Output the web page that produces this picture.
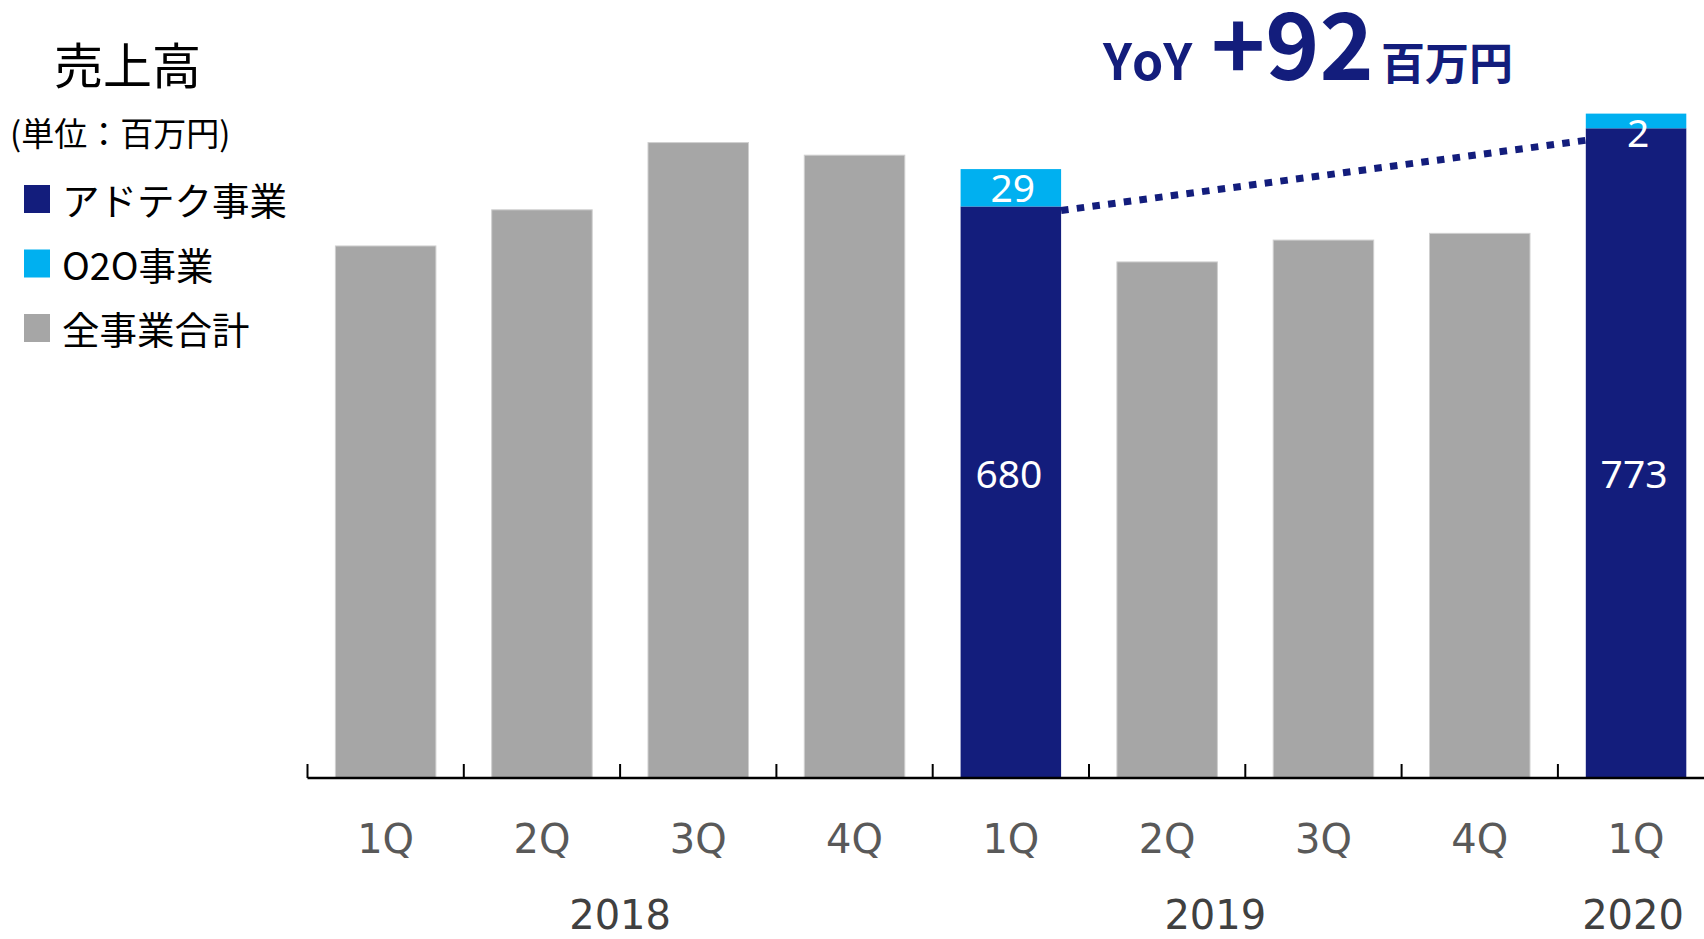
<!DOCTYPE html>
<html>
<head>
<meta charset="utf-8">
<script src="https://cdn.jsdelivr.net/npm/d3@7"></script>
<style>
  html, body { margin: 0; padding: 0; background: #ffffff; }
  svg { display: block; }
</style>
</head>
<body>
<div id="chart-container"></div>
<script>
// données
const periods = ["2018-1Q", "2018-2Q", "2018-3Q", "2018-4Q", "2019-1Q", "2019-2Q", "2019-3Q", "2019-4Q", "2020-1Q"];
const quarterLabels = ["1Q", "2Q", "3Q", "4Q", "1Q", "2Q", "3Q", "4Q", "1Q"];
const totals = [633, 676, 756, 741, 709, 614, 640, 648, 775];
const adtech = [null, null, null, null, 680, null, null, null, 773];
const o2o = [null, null, null, null, 29, null, null, null, 2];
const years = ["2018", "2019", "2020"];
const yearFirst = [0, 4, 8];
const yearLast = [3, 7, 8];
const legendLabels = ["アドテク事業", "O2O事業", "全事業合計"];

const width = 1704;
const height = 939;
const margin = { top: 106, right: -10, bottom: 161, left: 307.5 };

const colors = { adtech: "#131d7c", o2o: "#00b0f0", total: "#a6a6a6" };
const jpFont = "'Noto Sans CJK JP', 'Noto Sans', sans-serif";

const svg = d3
  .select("#chart-container")
  .append("svg")
  .attr("width", width)
  .attr("height", height);

// échelles
const x = d3
  .scaleBand()
  .domain(periods)
  .range([margin.left, margin.left + 9 * 156.3])
  .paddingInner(0.357)
  .paddingOuter(0.1785);

const y = d3
  .scaleLinear()
  .domain([0, 800])
  .range([height - margin.bottom, height - margin.bottom - 800 * 0.8405]);

const rows = periods.map((p, i) => ({
  key: p,
  q: quarterLabels[i],
  total: totals[i],
  adtech: adtech[i],
  o2o: o2o[i],
}));

const step = x.step();
const gap = (step - x.bandwidth()) / 2;

// barres grises (total)
svg
  .selectAll("rect.total")
  .data(rows.filter((d) => d.adtech === null))
  .enter()
  .append("rect")
  .attr("class", "total")
  .attr("x", (d) => x(d.key))
  .attr("y", (d) => y(d.total))
  .attr("width", x.bandwidth())
  .attr("height", (d) => y(0) - y(d.total))
  .attr("fill", colors.total)
  .attr("stroke", "#cfcfcf")
  .attr("stroke-width", 1);

const split = rows.filter((d) => d.adtech !== null);

// segment アドテク
svg
  .selectAll("rect.adtech")
  .data(split)
  .enter()
  .append("rect")
  .attr("x", (d) => x(d.key))
  .attr("y", (d) => y(d.adtech))
  .attr("width", x.bandwidth())
  .attr("height", (d) => y(0) - y(d.adtech))
  .attr("fill", colors.adtech);

// segment O2O (un peu agrandi pour loger l'étiquette, comme sur la slide)
const labelPad = 13;
svg
  .selectAll("rect.o2o")
  .data(split)
  .enter()
  .append("rect")
  .attr("x", (d) => x(d.key))
  .attr("y", (d) => y(d.adtech + d.o2o) - labelPad)
  .attr("width", x.bandwidth())
  .attr("height", (d) => y(d.adtech) - y(d.adtech + d.o2o) + labelPad)
  .attr("fill", colors.o2o);

// étiquettes
svg
  .selectAll("text.o2o")
  .data(split)
  .enter()
  .append("text")
  .attr("x", (d) => x(d.key) + x.bandwidth() / 2 + 2)
  .attr("y", (d) => y(d.adtech + d.o2o) - labelPad + 33)
  .attr("text-anchor", "middle")
  .style("font-family", "'Noto Sans', sans-serif")
  .style("font-size", "39px")
  .style("fill", "#ffffff")
  .text((d) => d.o2o);

svg
  .selectAll("text.adtech")
  .data(split)
  .enter()
  .append("text")
  .attr("x", (d) => x(d.key) + x.bandwidth() / 2 - 2)
  .attr("y", y(0) - 290)
  .attr("text-anchor", "middle")
  .style("font-family", "'Noto Sans', sans-serif")
  .style("font-size", "39px")
  .style("fill", "#ffffff")
  .text((d) => d.adtech);

// ligne pointillée YoY
const a = split[0];
const b = split[1];
svg
  .append("line")
  .attr("x1", x(a.key) + x.bandwidth())
  .attr("y1", y(a.adtech) + 4)
  .attr("x2", x(b.key))
  .attr("y2", y(b.adtech) + 12)
  .attr("stroke", colors.adtech)
  .attr("stroke-width", 7)
  .attr("stroke-dasharray", "7.5 8.3");

// axe X
svg
  .append("line")
  .attr("x1", margin.left)
  .attr("x2", width)
  .attr("y1", y(0))
  .attr("y2", y(0))
  .attr("stroke", "#000")
  .attr("stroke-width", 2.5);

svg
  .selectAll("line.tick")
  .data(periods)
  .enter()
  .append("line")
  .attr("x1", (d) => x(d) - gap)
  .attr("x2", (d) => x(d) - gap)
  .attr("y1", y(0) - 14)
  .attr("y2", y(0))
  .attr("stroke", "#000")
  .attr("stroke-width", 2);

svg
  .selectAll("text.quarter")
  .data(rows)
  .enter()
  .append("text")
  .attr("x", (d) => x(d.key) + x.bandwidth() / 2)
  .attr("y", 853)
  .attr("text-anchor", "middle")
  .style("font-family", "'DejaVu Sans', Verdana, sans-serif")
  .style("font-size", "40px")
  .style("fill", "#595959")
  .text((d) => d.q);

const yearNudge = [0, -30, -3]; // placés à la main sur l'original
svg
  .selectAll("text.year")
  .data(years)
  .enter()
  .append("text")
  .attr("x", (d, i) => {
    const x0 = x(periods[yearFirst[i]]);
    const x1 = x(periods[yearLast[i]]) + x.bandwidth();
    return (x0 + x1) / 2 + yearNudge[i];
  })
  .attr("y", 929)
  .attr("text-anchor", "middle")
  .style("font-family", "'DejaVu Sans', Verdana, sans-serif")
  .style("font-size", "40px")
  .style("fill", "#404040")
  .text((d) => d);

// titre + unité
svg
  .append("text")
  .attr("x", 54)
  .attr("y", 84)
  .style("font-family", jpFont)
  .style("font-size", "49px")
  .style("fill", "#000")
  .text("売上高");

svg
  .append("text")
  .attr("x", 10)
  .attr("y", 146)
  .style("font-family", jpFont)
  .style("font-size", "33px")
  .style("fill", "#000")
  .text("(単位：百万円)");

// légende
const legendColors = [colors.adtech, colors.o2o, colors.total];
const legend = svg
  .selectAll("g.legend")
  .data(legendLabels)
  .enter()
  .append("g")
  .attr("transform", (d, i) => `translate(24, ${185 + i * 64.5})`);

legend
  .append("rect")
  .attr("width", 26)
  .attr("height", 28)
  .attr("fill", (d, i) => legendColors[i]);

legend
  .append("text")
  .attr("x", 38)
  .attr("y", 30)
  .style("font-family", jpFont)
  .style("font-size", "37.5px")
  .style("fill", "#000")
  .text((d) => d);

// YoY
const yoy = svg
  .append("text")
  .attr("y", 80)
  .style("font-family", jpFont)
  .style("font-weight", "bold")
  .style("fill", colors.adtech);
yoy.append("tspan").attr("x", 1103).style("font-size", "50px").style("letter-spacing", "3px").text("YoY");
yoy.append("tspan").attr("x", 1211).style("font-size", "92px").text("+" + (b.adtech - a.adtech - 1));
yoy.append("tspan").attr("x", 1381).style("font-size", "44px").text("百万円");
</script>
</body>
</html>
